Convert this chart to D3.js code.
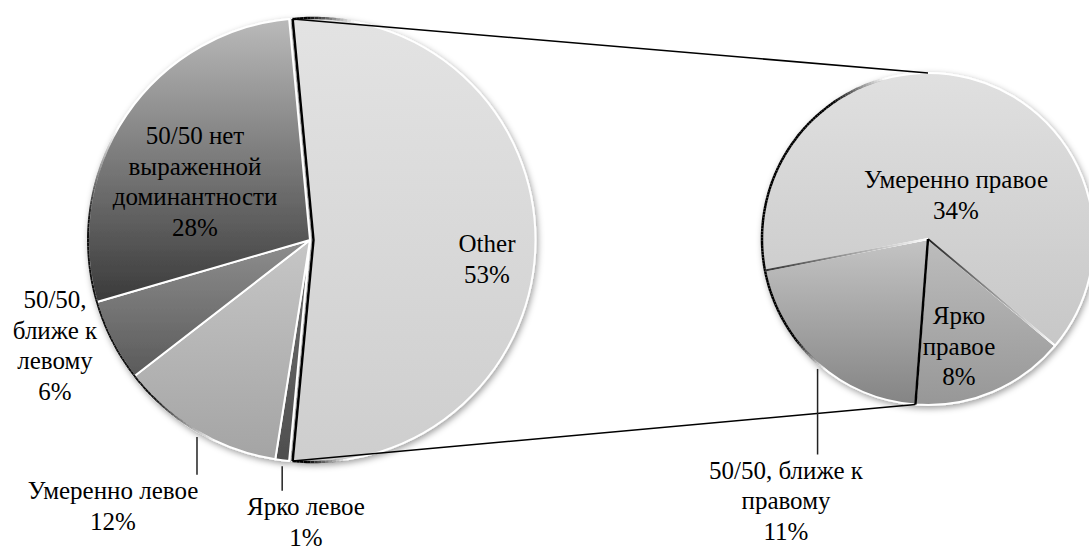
<!DOCTYPE html>
<html>
<head>
<meta charset="utf-8">
<script src="https://cdn.jsdelivr.net/npm/d3@7"></script>
<style>
  html, body { margin: 0; padding: 0; background: #fff; overflow: hidden; }
  svg { display: block; }
  .lbl { font-family: "Liberation Serif", "Times New Roman", "DejaVu Serif", serif; }
</style>
</head>
<body>
<svg id="chart" width="1089" height="551"></svg>
<script>
// ---- data ----
// main pie: left-leaning answers plus the combined "Other" slice
const primaryNames = ["Ярко левое", "Умеренно левое", "50/50, ближе к левому",
                      "50/50 нет выраженной доминантности", "Other"];
const primaryValues = [1, 12, 6, 28, 53];
// secondary pie: what "Other" is made of
const secondaryNames = ["Ярко правое", "50/50, ближе к правому", "Умеренно правое"];
const secondaryValues = [8, 11, 34];
// how each category name is broken into lines
const primaryLabelLines = [["Ярко левое"], ["Умеренно левое"], ["50/50,", "ближе к", "левому"],
                           ["50/50 нет", "выраженной", "доминантности"], ["Other"]];
const secondaryLabelLines = [["Ярко", "правое"], ["50/50, ближе к", "правому"], ["Умеренно правое"]];

// ---- layout & style ----
const deg = Math.PI / 180;
const primary = { cx: 310, cy: 240, r: 222, otherShift: 3.5 };
const secondary = { cx: 928, cy: 239, r: 166, start: 130 * deg };
const fontSize = 25, lineH = 30.5;

// vertical gradient stops [top, bottom] per slice
const primaryFills = [["#727272", "#4e4e4e"], ["#c6c6c6", "#a4a4a4"], ["#8e8e8e", "#5a5a5a"],
                      ["#bababa", "#3a3a3a"], ["#e3e3e3", "#cecece"]];
const secondaryFills = [["#bdbdbd", "#979797"], ["#c4c4c4", "#848484"], ["#e0e0e0", "#c7c7c7"]];

// label block centres relative to each pie centre, and whether a leader line is drawn
const primaryLabelPos = [{ dx: -4, dy: 282, leader: true }, { dx: -197, dy: 266, leader: true },
                         { dx: -255, dy: 105.5, leader: false }, { dx: -115, dy: -58.5, leader: false },
                         { dx: 177, dy: 19, leader: false }];
const secondaryLabelPos = [{ dx: 31, dy: 107.5, leader: false }, { dx: -142, dy: 262, leader: true },
                           { dx: 28, dy: -44, leader: false }];

const svg = d3.select("#chart");
const defs = svg.append("defs");

const shadow = defs.append("filter").attr("id", "pieShadow")
  .attr("x", "-10%").attr("y", "-10%").attr("width", "125%").attr("height", "125%");
shadow.append("feDropShadow").attr("dx", 1.5).attr("dy", 2.5).attr("stdDeviation", 3)
  .attr("flood-color", "#000").attr("flood-opacity", 0.38);

function addGradient(id, stops) {
  const g = defs.append("linearGradient").attr("id", id)
    .attr("x1", 0).attr("y1", 0).attr("x2", 0).attr("y2", 1);
  g.append("stop").attr("offset", "0%").attr("stop-color", stops[0]);
  g.append("stop").attr("offset", "100%").attr("stop-color", stops[1]);
}
primaryFills.forEach((s, i) => addGradient("pf" + i, s));
secondaryFills.forEach((s, i) => addGradient("sf" + i, s));

// point on a circle for a d3 pie angle (clockwise from 12 o'clock)
const polar = (cx, cy, r, a) => [cx + r * Math.sin(a), cy - r * Math.cos(a)];

// arc outline that fades in/out at its ends
function fadeArc(g, cx, cy, r, a0, a1, fade0, fade1, color, width) {
  const span = Math.abs(a1 - a0);
  const n = Math.max(2, Math.ceil(span / deg));
  for (let i = 0; i < n; i++) {
    const s = a0 + (a1 - a0) * i / n, e = a0 + (a1 - a0) * (i + 1) / n;
    const m = (i + 0.5) / n;
    const o0 = fade0 > 0 ? span * m / fade0 : 1;
    const o1 = fade1 > 0 ? span * (1 - m) / fade1 : 1;
    const p = d3.path();
    p.arc(cx, cy, r, s - Math.PI / 2, e - Math.PI / 2, e < s);
    g.append("path").attr("d", p.toString()).attr("fill", "none")
      .attr("stroke", color).attr("stroke-width", width)
      .attr("stroke-opacity", Math.max(0, Math.min(1, o0, o1)));
  }
}

function gradientLine(g, id, p0, p1, c0, c1, width) {
  const lg = defs.append("linearGradient").attr("id", id).attr("gradientUnits", "userSpaceOnUse")
    .attr("x1", p0[0]).attr("y1", p0[1]).attr("x2", p1[0]).attr("y2", p1[1]);
  lg.append("stop").attr("offset", "0%").attr("stop-color", c0);
  lg.append("stop").attr("offset", "100%").attr("stop-color", c1);
  g.append("line").attr("x1", p0[0]).attr("y1", p0[1]).attr("x2", p1[0]).attr("y2", p1[1])
    .attr("stroke", `url(#${id})`).attr("stroke-width", width);
}

// ---- main pie ----
const otherFrac = primaryValues[primaryValues.length - 1] / d3.sum(primaryValues);
const pStart = Math.PI / 2 + Math.PI * otherFrac;   // "Other" centred on 3 o'clock
const pArcs = d3.pie().sort(null).value(d => d)
  .startAngle(pStart).endAngle(pStart + 2 * Math.PI)(primaryValues);
const pArc = d3.arc().innerRadius(0).outerRadius(primary.r);
const otherIdx = primaryValues.length - 1;

const gP = svg.append("g").attr("filter", "url(#pieShadow)");
gP.selectAll("path").data(pArcs).join("path")
  .attr("transform", (d, i) => `translate(${primary.cx + (i === otherIdx ? primary.otherShift : 0)},${primary.cy})`)
  .attr("d", pArc)
  .attr("fill", (d, i) => `url(#pf${i})`)
  .attr("stroke", "#fff").attr("stroke-width", 2).attr("stroke-linejoin", "round");

const gPO = svg.append("g");
// dark rim on the lower-left side of the main pie
fadeArc(gPO, primary.cx, primary.cy, primary.r, 205 * deg, 300 * deg, 20 * deg, 25 * deg, "#111", 2);

// outline of the "Other" slice
const oA = pArcs[otherIdx];
const ocx = primary.cx + primary.otherShift, ocy = primary.cy;
const oTop = polar(ocx, ocy, primary.r, oA.startAngle);
const oBot = polar(ocx, ocy, primary.r, oA.endAngle);
gPO.append("path").attr("d", d3.line()([oTop, [ocx, ocy], oBot]))
  .attr("fill", "none").attr("stroke", "#000").attr("stroke-width", 2.5).attr("stroke-linejoin", "miter");
fadeArc(gPO, ocx, ocy, primary.r, oA.startAngle, oA.startAngle + 16 * deg, 0, 12 * deg, "#000", 2.5);
fadeArc(gPO, ocx, ocy, primary.r, oA.endAngle, oA.endAngle - 14 * deg, 0, 10 * deg, "#000", 2.5);

// ---- secondary pie ----
const sArcs = d3.pie().sort(null).value(d => d)
  .startAngle(secondary.start).endAngle(secondary.start + 2 * Math.PI)(secondaryValues);
const sArc = d3.arc().innerRadius(0).outerRadius(secondary.r);

const gS = svg.append("g").attr("filter", "url(#pieShadow)")
  .attr("transform", `translate(${secondary.cx},${secondary.cy})`);
gS.selectAll("path").data(sArcs).join("path")
  .attr("d", sArc)
  .attr("fill", (d, i) => `url(#sf${i})`)
  .attr("stroke", "#fff").attr("stroke-width", 2).attr("stroke-linejoin", "round");

const gSO = svg.append("g");
fadeArc(gSO, secondary.cx, secondary.cy, secondary.r, 218 * deg, 345 * deg, 15 * deg, 20 * deg, "#000", 2.5);
const sc = [secondary.cx, secondary.cy];
// edges between secondary slices
gradientLine(gSO, "edgeA", sc, polar(secondary.cx, secondary.cy, secondary.r, sArcs[0].startAngle), "#222", "#fff", 2);
gradientLine(gSO, "edgeC", sc, polar(secondary.cx, secondary.cy, secondary.r, sArcs[1].endAngle), "#fff", "#333", 2);
const sBot = polar(secondary.cx, secondary.cy, secondary.r, sArcs[0].endAngle);
gSO.append("line").attr("x1", sc[0]).attr("y1", sc[1]).attr("x2", sBot[0]).attr("y2", sBot[1])
  .attr("stroke", "#000").attr("stroke-width", 2.5);

// ---- connector lines ----
const sTop = polar(secondary.cx, secondary.cy, secondary.r, 0);
svg.append("line").attr("x1", oTop[0]).attr("y1", oTop[1]).attr("x2", sTop[0]).attr("y2", sTop[1])
  .attr("stroke", "#000").attr("stroke-width", 1.6);
svg.append("line").attr("x1", oBot[0]).attr("y1", oBot[1]).attr("x2", sBot[0]).attr("y2", sBot[1])
  .attr("stroke", "#000").attr("stroke-width", 1.6);

// ---- labels ----
function drawLabels(arcs, values, lines, pos, c) {
  arcs.forEach((a, i) => {
    const p = pos[i];
    const all = lines[i].concat([`${values[i]}%`]);
    const x = c.cx + p.dx;
    const y0 = c.cy + p.dy - (all.length - 1) * lineH / 2;
    if (p.leader) {
      const mid = (a.startAngle + a.endAngle) / 2;
      const e = polar(c.cx, c.cy, c.r, mid);
      svg.append("line").attr("x1", e[0]).attr("y1", e[1] + 6).attr("x2", e[0]).attr("y2", y0 - 16)
        .attr("stroke", "#222").attr("stroke-width", 1.5);
    }
    const t = svg.append("text").attr("class", "lbl").attr("text-anchor", "middle")
      .style("font-size", fontSize + "px").attr("fill", "#000");
    all.forEach((s, k) => {
      t.append("tspan").attr("x", x).attr("y", y0 + k * lineH + fontSize * 0.33).text(s);
    });
  });
}
drawLabels(pArcs, primaryValues, primaryLabelLines, primaryLabelPos, primary);
drawLabels(sArcs, secondaryValues, secondaryLabelLines, secondaryLabelPos, secondary);
</script>
</body>
</html>
